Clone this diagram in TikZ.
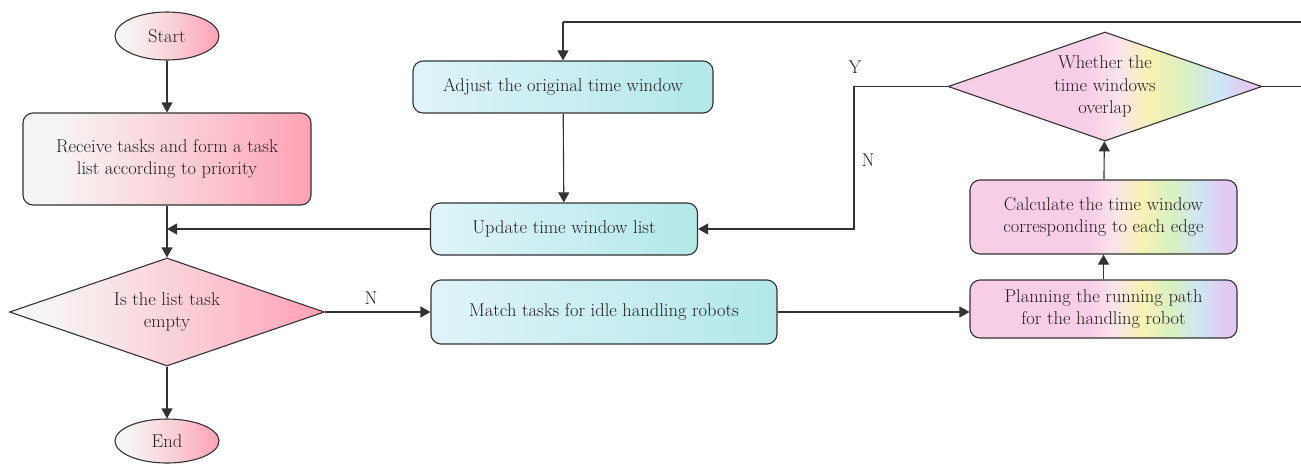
\documentclass[tikz,border=0pt]{standalone}
\usetikzlibrary{shapes.geometric,arrows.meta}
\definecolor{linec}{HTML}{333333}
\definecolor{txtc}{HTML}{231F20}
\definecolor{pgray}{HTML}{F6F5F3}
\definecolor{ppink}{HTML}{FFA0B4}
\definecolor{cyl}{HTML}{DFF4F9}
\definecolor{cyr}{HTML}{B3E8E8}
\definecolor{rpink}{HTML}{F8CDE6}
\definecolor{rlpink}{HTML}{FBE3EC}
\definecolor{ryel}{HTML}{F8F2B4}
\definecolor{rgrn}{HTML}{D8F0C2}
\definecolor{rblu}{HTML}{CDE6F4}
\definecolor{rlav}{HTML}{E4C8F1}
\pgfdeclarehorizontalshading{pinkgrad}{100bp}{color(0bp)=(pgray); color(31bp)=(pgray); color(55bp)=(pgray!50!ppink); color(75bp)=(ppink); color(100bp)=(ppink)}
\pgfdeclarehorizontalshading{rainbow}{100bp}{color(0bp)=(rpink); color(47bp)=(rpink); color(52bp)=(rlpink); color(57bp)=(ryel); color(63bp)=(rgrn); color(68bp)=(rblu); color(73bp)=(rlav); color(100bp)=(rlav)}
\begin{document}
\begin{tikzpicture}[x=1pt,y=-1pt,
  every node/.style={font=\fontsize{18.5}{22.5}\selectfont, text=txtc, align=center, inner sep=0pt},
  base/.style={draw=linec, line width=1.1pt},
  term/.style={base, ellipse, shading=pinkgrad},
  pbox/.style={base, rectangle, rounded corners=10pt, shading=pinkgrad},
  cbox/.style={base, rectangle, rounded corners=10pt, left color=cyl, right color=cyr},
  rbox/.style={base, rectangle, rounded corners=10pt, shading=rainbow},
  pdec/.style={base, diamond, aspect=2.9, shading=pinkgrad},
  rdec/.style={base, diamond, aspect=2.88, shading=rainbow},
  conn/.style={draw=linec, line width=1.1pt},
  arr/.style={conn, -{Triangle[length=10pt,width=11pt]}},
  lbl/.style={font=\fontsize{18.5}{20}\selectfont}
]
\useasboundingbox (0,0) rectangle (1301,464);

\node[term, minimum width=104pt, minimum height=48pt] (start) at (167,36) {Start};
\node[pbox, minimum width=288pt, minimum height=92pt] (recv) at (167,159) {Receive tasks and form a task\\list according to priority};
\node[pdec, minimum width=315pt, minimum height=108pt] (dec1) at (167,312) {Is the list task\\empty};
\node[term, minimum width=104pt, minimum height=44pt] (endn) at (167,441) {End};

\node[cbox, minimum width=300pt, minimum height=52pt] (adj) at (563,87) {Adjust the original time window};
\node[cbox, minimum width=267pt, minimum height=52pt] (upd) at (564,229) {Update time window list};
\node[cbox, minimum width=346pt, minimum height=64pt] (match) at (604,312) {Match tasks for idle handling robots};

\node[rbox, minimum width=267pt, minimum height=58pt] (plan) at (1103.5,309) {Planning the running path\\for the handling robot};
\node[rbox, minimum width=267pt, minimum height=74pt] (calc) at (1103.5,217) {Calculate the time window\\corresponding to each edge};
\node[rdec, minimum width=314pt, minimum height=109pt] (dec2) at (1105,86.5) {Whether the\\time windows\\overlap};

\coordinate (kN) at (854,86.5);
\coordinate (kR1) at (1310,86.5);
\coordinate (kR2) at (1310,22);
\coordinate (kT) at (563,22);

\draw[arr] (start) -- (recv);
\draw[arr] (recv) -- (dec1);
\draw[arr] (upd.west) -- (recv.south |- upd.west);
\draw[arr] (dec1.east) -- (match.west);
\draw[arr] (dec1) -- (endn);
\draw[arr] (match.east) -- (match.east -| plan.west);
\draw[arr] (plan) -- (calc);
\draw[arr] (calc) -- (dec2);
\draw[arr] (dec2.west) -- (kN) |- (upd.east);
\draw[conn] (dec2.east) -- (kR1) -- (kR2) -- (kT);
\draw[arr] (kT) -- (adj.north);
\draw[arr] (adj) -- (upd);

\node[lbl] (lN1) at (371,298) {N};
\node[lbl] (lY) at (855,67) {Y};
\node[lbl] (lN2) at (868,160) {N};
\end{tikzpicture}
\end{document}
